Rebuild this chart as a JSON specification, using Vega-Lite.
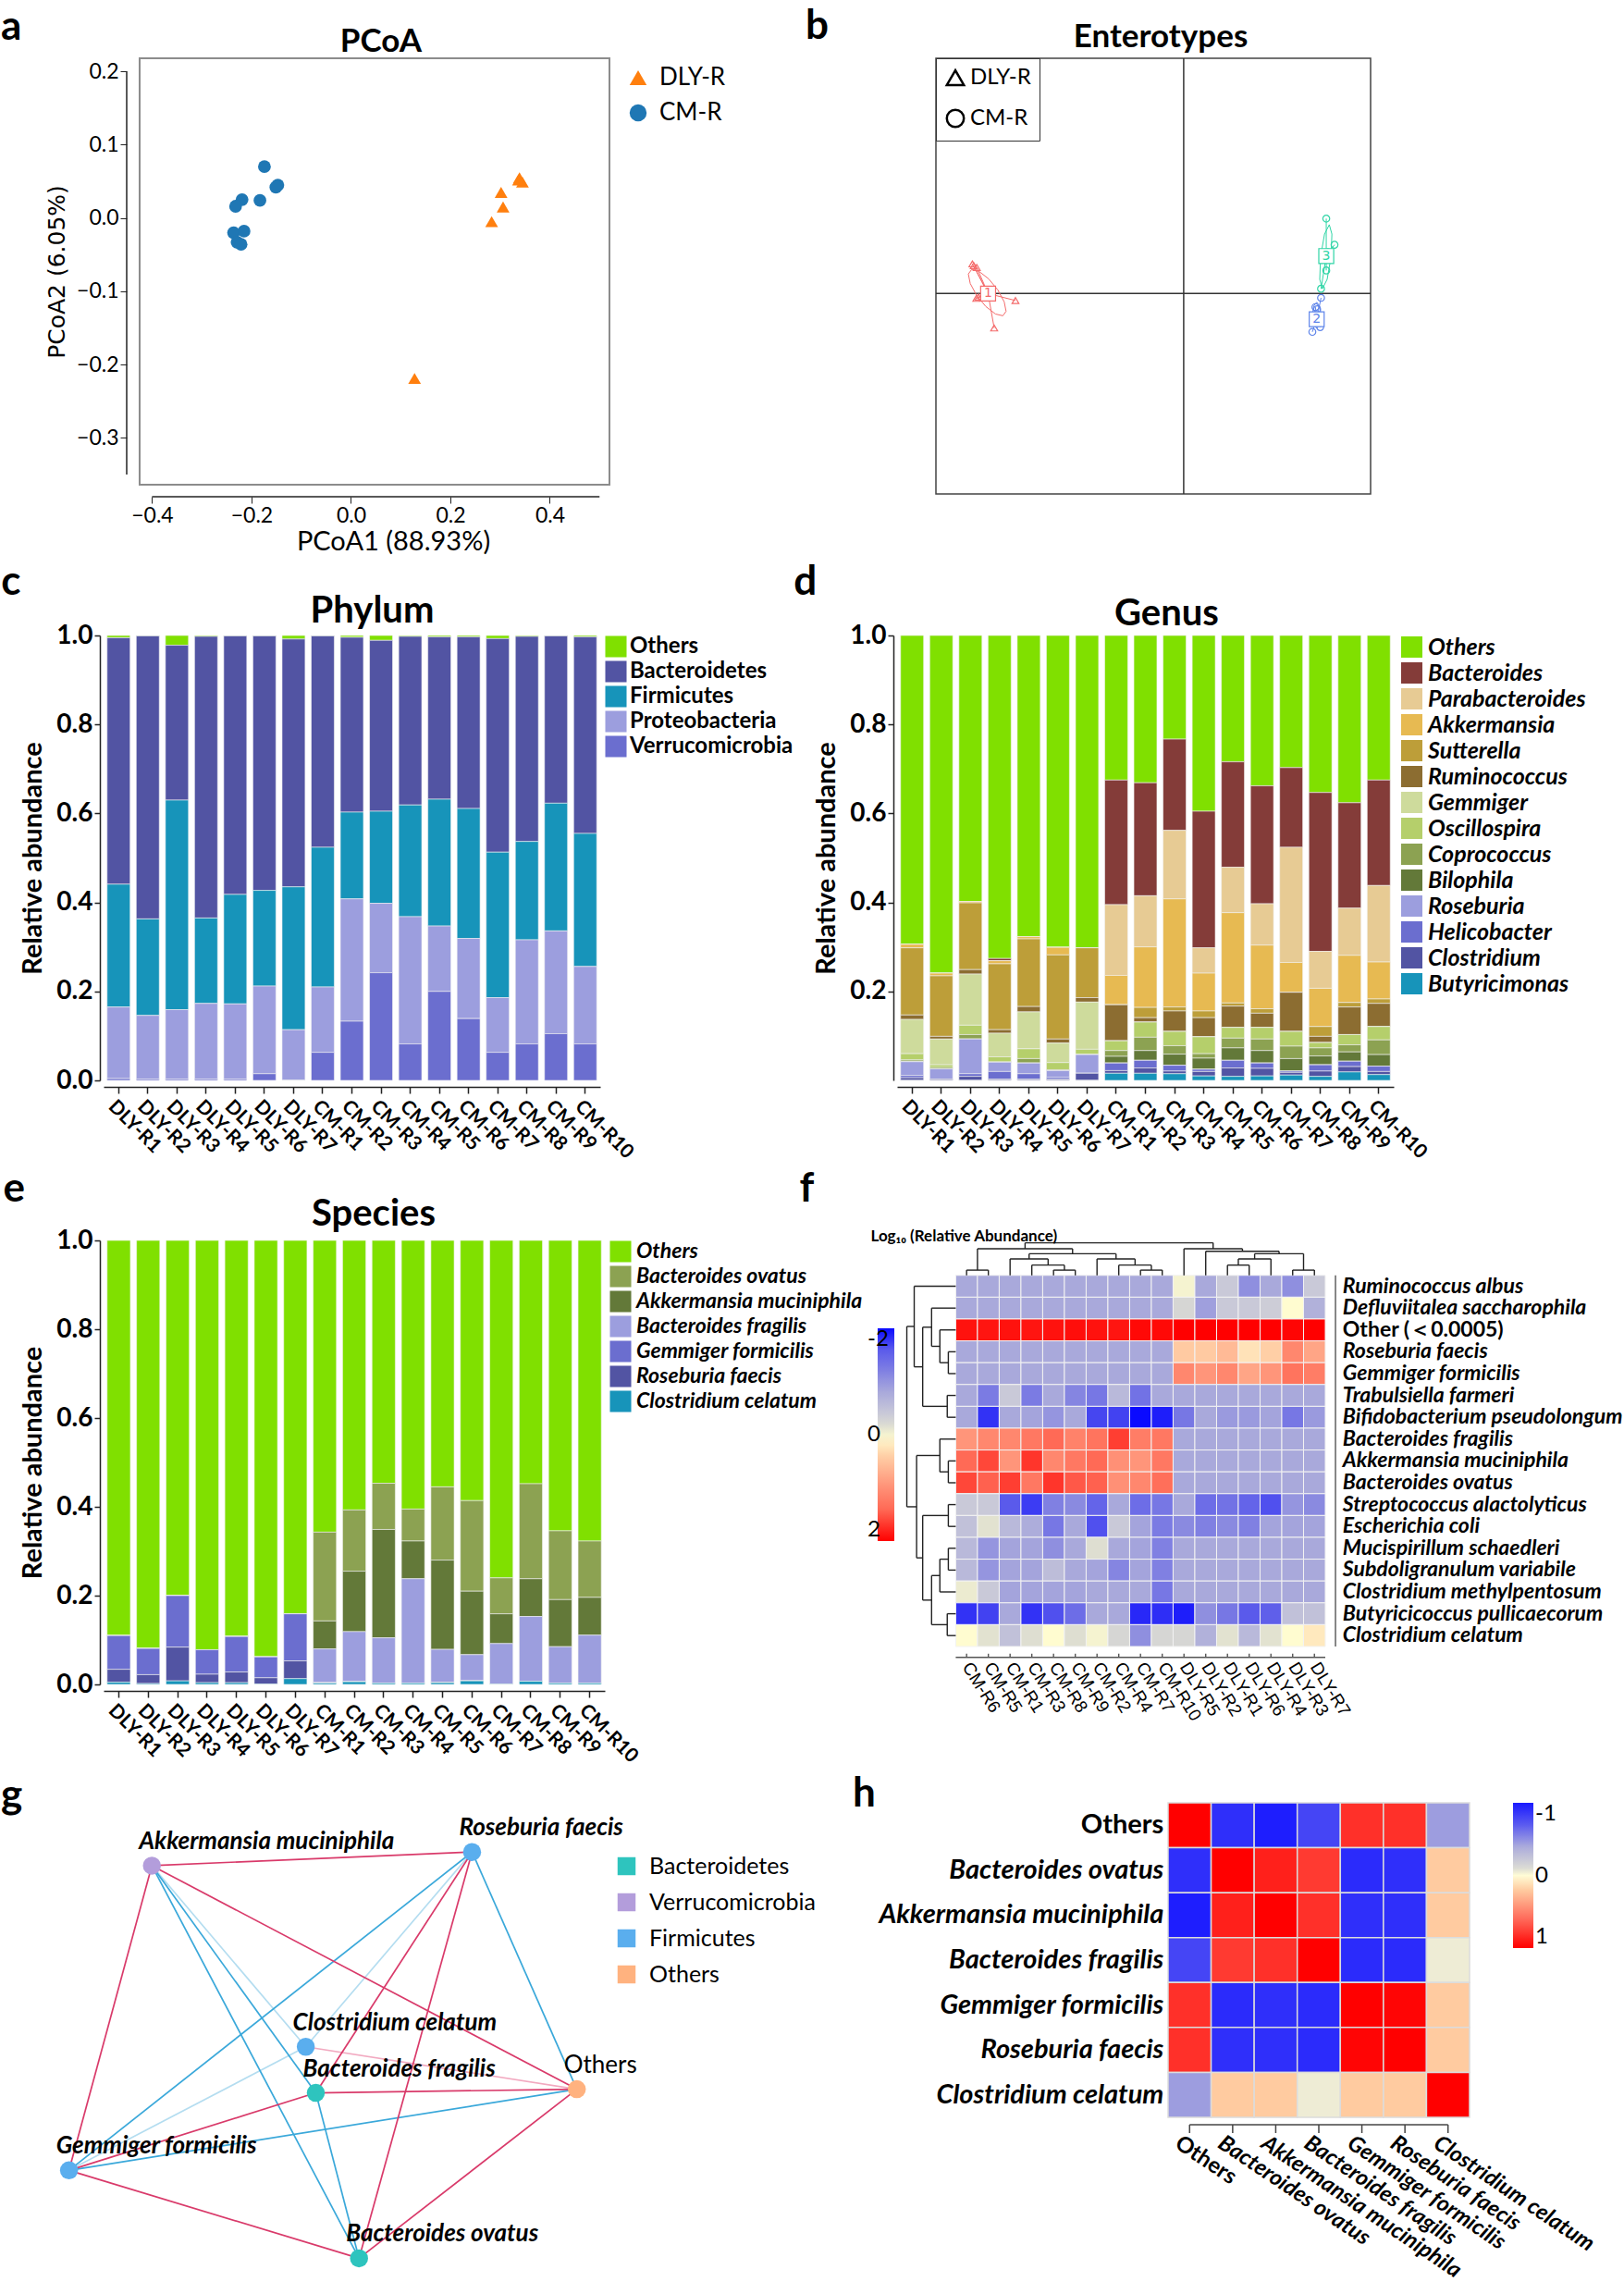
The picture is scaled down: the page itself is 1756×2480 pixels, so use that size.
{
"$schema": "https://vega.github.io/schema/vega-lite/v6.json",
"padding": {"left": 0, "top": 6, "right": 0, "bottom": 0},
"background": "white",
"spacing": 7,
"columns": 1,
"align": "none",
"resolve": {"scale": {"color": "independent", "shape": "independent", "size": "independent", "stroke": "independent", "fill": "independent"}},
"config": {
  "font": "Lato",
  "view": {"stroke": null},
  "axis": {"domainColor": "#222", "tickColor": "#222", "labelColor": "#000", "titleColor": "#000", "grid": false},
  "legend": {"labelColor": "#000", "titleColor": "#000"},
  "text": {"color": "#000"}
},
"datasets": {
  "pcoa": [
    {"g":"DLY-R","PC1":0.339,"PC2":0.055},{"g":"DLY-R","PC1":0.345,"PC2":0.049},{"g":"DLY-R","PC1":0.337,"PC2":0.052},{"g":"DLY-R","PC1":0.302,"PC2":0.035},{"g":"DLY-R","PC1":0.306,"PC2":0.015},{"g":"DLY-R","PC1":0.283,"PC2":-0.005},{"g":"DLY-R","PC1":0.128,"PC2":-0.219},
    {"g":"CM-R","PC1":-0.174,"PC2":0.070},{"g":"CM-R","PC1":-0.147,"PC2":0.045},{"g":"CM-R","PC1":-0.151,"PC2":0.042},{"g":"CM-R","PC1":-0.219,"PC2":0.025},{"g":"CM-R","PC1":-0.183,"PC2":0.024},{"g":"CM-R","PC1":-0.232,"PC2":0.016},{"g":"CM-R","PC1":-0.236,"PC2":-0.020},{"g":"CM-R","PC1":-0.215,"PC2":-0.018},{"g":"CM-R","PC1":-0.229,"PC2":-0.033},{"g":"CM-R","PC1":-0.221,"PC2":-0.036}
  ],
  "entPts": [
    {"g":"DLY-R","cl":"1","px":-4.86,"py":0.68},{"g":"DLY-R","cl":"1","px":-4.76,"py":0.60},{"g":"DLY-R","cl":"1","px":-4.83,"py":0.64},{"g":"DLY-R","cl":"1","px":-4.77,"py":-0.11},{"g":"DLY-R","cl":"1","px":-4.72,"py":-0.08},{"g":"DLY-R","cl":"1","px":-3.87,"py":-0.16},{"g":"DLY-R","cl":"1","px":-4.36,"py":-0.79},
    {"g":"CM-R","cl":"3","px":3.28,"py":1.72},{"g":"CM-R","cl":"3","px":3.47,"py":1.12},{"g":"CM-R","cl":"3","px":3.28,"py":0.53},{"g":"CM-R","cl":"3","px":3.16,"py":0.11},{"g":"CM-R","cl":"3","px":3.31,"py":0.95},
    {"g":"CM-R","cl":"2","px":3.16,"py":-0.10},{"g":"CM-R","cl":"2","px":3.03,"py":-0.31},{"g":"CM-R","cl":"2","px":3.07,"py":-0.36},{"g":"CM-R","cl":"2","px":3.14,"py":-0.77},{"g":"CM-R","cl":"2","px":2.96,"py":-0.88}
  ],
  "entCtr": [
    {"cl":"1","cx":-4.5,"cy":0.0},{"cl":"2","cx":3.06,"cy":-0.59},{"cl":"3","cx":3.28,"cy":0.86}
  ],
  "entEll": [
    {"cl":"1","k":0,"ex":-4.16,"ey":-0.51},{"cl":"1","k":1,"ex":-4.086,"ey":-0.408},{"cl":"1","k":2,"ex":-4.129,"ey":-0.191},{"cl":"1","k":3,"ex":-4.276,"ey":0.082},{"cl":"1","k":4,"ex":-4.489,"ey":0.339},{"cl":"1","k":5,"ex":-4.71,"ey":0.51},{"cl":"1","k":6,"ex":-4.88,"ey":0.55},{"cl":"1","k":7,"ex":-4.954,"ey":0.448},{"cl":"1","k":8,"ex":-4.911,"ey":0.231},{"cl":"1","k":9,"ex":-4.764,"ey":-0.042},{"cl":"1","k":10,"ex":-4.551,"ey":-0.299},{"cl":"1","k":11,"ex":-4.33,"ey":-0.47},{"cl":"1","k":12,"ex":-4.16,"ey":-0.51},
    {"cl":"3","k":0,"ex":3.35,"ey":1.58},{"cl":"3","k":1,"ex":3.41,"ey":1.365},{"cl":"3","k":2,"ex":3.39,"ey":0.845},{"cl":"3","k":3,"ex":3.30,"ey":0.325},{"cl":"3","k":4,"ex":3.19,"ey":0.11},{"cl":"3","k":5,"ex":3.13,"ey":0.325},{"cl":"3","k":6,"ex":3.15,"ey":0.845},{"cl":"3","k":7,"ex":3.24,"ey":1.365},{"cl":"3","k":8,"ex":3.35,"ey":1.58},
    {"cl":"2","k":0,"ex":3.06,"ey":-0.2},{"cl":"2","k":1,"ex":3.13,"ey":-0.29},{"cl":"2","k":2,"ex":3.16,"ey":-0.5},{"cl":"2","k":3,"ex":3.13,"ey":-0.71},{"cl":"2","k":4,"ex":3.06,"ey":-0.8},{"cl":"2","k":5,"ex":2.99,"ey":-0.71},{"cl":"2","k":6,"ex":2.96,"ey":-0.5},{"cl":"2","k":7,"ex":2.99,"ey":-0.29},{"cl":"2","k":8,"ex":3.06,"ey":-0.2}
  ],
  "phylum": [
    {"s":"DLY-R1","Others":0.005,"Bacteroidetes":0.554,"Firmicutes":0.276,"Proteobacteria":0.161,"Verrucomicrobia":0.004},
    {"s":"DLY-R2","Others":0.001,"Bacteroidetes":0.636,"Firmicutes":0.217,"Proteobacteria":0.143,"Verrucomicrobia":0.003},
    {"s":"DLY-R3","Others":0.022,"Bacteroidetes":0.348,"Firmicutes":0.471,"Proteobacteria":0.156,"Verrucomicrobia":0.003},
    {"s":"DLY-R4","Others":0.002,"Bacteroidetes":0.633,"Firmicutes":0.192,"Proteobacteria":0.170,"Verrucomicrobia":0.003},
    {"s":"DLY-R5","Others":0.001,"Bacteroidetes":0.581,"Firmicutes":0.246,"Proteobacteria":0.169,"Verrucomicrobia":0.003},
    {"s":"DLY-R6","Others":0.001,"Bacteroidetes":0.572,"Firmicutes":0.215,"Proteobacteria":0.197,"Verrucomicrobia":0.015},
    {"s":"DLY-R7","Others":0.008,"Bacteroidetes":0.557,"Firmicutes":0.321,"Proteobacteria":0.113,"Verrucomicrobia":0.001},
    {"s":"CM-R1","Others":0.001,"Bacteroidetes":0.475,"Firmicutes":0.314,"Proteobacteria":0.147,"Verrucomicrobia":0.063},
    {"s":"CM-R2","Others":0.004,"Bacteroidetes":0.393,"Firmicutes":0.195,"Proteobacteria":0.275,"Verrucomicrobia":0.133},
    {"s":"CM-R3","Others":0.011,"Bacteroidetes":0.384,"Firmicutes":0.207,"Proteobacteria":0.156,"Verrucomicrobia":0.242},
    {"s":"CM-R4","Others":0.002,"Bacteroidetes":0.379,"Firmicutes":0.251,"Proteobacteria":0.286,"Verrucomicrobia":0.082},
    {"s":"CM-R5","Others":0.003,"Bacteroidetes":0.365,"Firmicutes":0.285,"Proteobacteria":0.147,"Verrucomicrobia":0.200},
    {"s":"CM-R6","Others":0.003,"Bacteroidetes":0.386,"Firmicutes":0.292,"Proteobacteria":0.180,"Verrucomicrobia":0.139},
    {"s":"CM-R7","Others":0.007,"Bacteroidetes":0.480,"Firmicutes":0.327,"Proteobacteria":0.123,"Verrucomicrobia":0.063},
    {"s":"CM-R8","Others":0.002,"Bacteroidetes":0.461,"Firmicutes":0.221,"Proteobacteria":0.234,"Verrucomicrobia":0.082},
    {"s":"CM-R9","Others":0.001,"Bacteroidetes":0.376,"Firmicutes":0.287,"Proteobacteria":0.231,"Verrucomicrobia":0.105},
    {"s":"CM-R10","Others":0.003,"Bacteroidetes":0.442,"Firmicutes":0.299,"Proteobacteria":0.174,"Verrucomicrobia":0.082}
  ],
  "genus": [
    {"s":"DLY-R1","Others":0.694,"Bacteroides":0,"Parabacteroides":0,"Akkermansia":0.008,"Sutterella":0.151,"Ruminococcus":0.010,"Gemmiger":0.077,"Oscillospira":0.014,"Coprococcus":0.003,"Bilophila":0.001,"Roseburia":0.031,"Helicobacter":0.005,"Clostridium":0.006,"Butyricimonas":0},
    {"s":"DLY-R2","Others":0.759,"Bacteroides":0,"Parabacteroides":0,"Akkermansia":0.006,"Sutterella":0.136,"Ruminococcus":0.006,"Gemmiger":0.058,"Oscillospira":0.006,"Coprococcus":0.003,"Bilophila":0,"Roseburia":0.023,"Helicobacter":0,"Clostridium":0.003,"Butyricimonas":0},
    {"s":"DLY-R3","Others":0.598,"Bacteroides":0,"Parabacteroides":0,"Akkermansia":0.003,"Sutterella":0.150,"Ruminococcus":0.010,"Gemmiger":0.115,"Oscillospira":0.021,"Coprococcus":0.010,"Bilophila":0,"Roseburia":0.078,"Helicobacter":0.006,"Clostridium":0.009,"Butyricimonas":0},
    {"s":"DLY-R4","Others":0.726,"Bacteroides":0.005,"Parabacteroides":0,"Akkermansia":0.007,"Sutterella":0.148,"Ruminococcus":0.008,"Gemmiger":0.053,"Oscillospira":0.012,"Coprococcus":0,"Bilophila":0,"Roseburia":0.021,"Helicobacter":0.017,"Clostridium":0.003,"Butyricimonas":0},
    {"s":"DLY-R5","Others":0.677,"Bacteroides":0,"Parabacteroides":0,"Akkermansia":0.005,"Sutterella":0.152,"Ruminococcus":0.012,"Gemmiger":0.083,"Oscillospira":0.022,"Coprococcus":0.010,"Bilophila":0,"Roseburia":0.024,"Helicobacter":0.012,"Clostridium":0.003,"Butyricimonas":0},
    {"s":"DLY-R6","Others":0.701,"Bacteroides":0,"Parabacteroides":0,"Akkermansia":0.017,"Sutterella":0.189,"Ruminococcus":0.009,"Gemmiger":0.044,"Oscillospira":0.016,"Coprococcus":0.002,"Bilophila":0,"Roseburia":0.015,"Helicobacter":0.004,"Clostridium":0.003,"Butyricimonas":0},
    {"s":"DLY-R7","Others":0.702,"Bacteroides":0,"Parabacteroides":0,"Akkermansia":0,"Sutterella":0.112,"Ruminococcus":0.010,"Gemmiger":0.106,"Oscillospira":0.012,"Coprococcus":0,"Bilophila":0,"Roseburia":0.042,"Helicobacter":0,"Clostridium":0.016,"Butyricimonas":0},
    {"s":"CM-R1","Others":0.325,"Bacteroides":0.280,"Parabacteroides":0.159,"Akkermansia":0.066,"Sutterella":0,"Ruminococcus":0.081,"Gemmiger":0,"Oscillospira":0.022,"Coprococcus":0.013,"Bilophila":0.015,"Roseburia":0,"Helicobacter":0.017,"Clostridium":0.006,"Butyricimonas":0.016},
    {"s":"CM-R2","Others":0.331,"Bacteroides":0.254,"Parabacteroides":0.115,"Akkermansia":0.136,"Sutterella":0.023,"Ruminococcus":0.010,"Gemmiger":0,"Oscillospira":0.034,"Coprococcus":0.030,"Bilophila":0.022,"Roseburia":0,"Helicobacter":0.017,"Clostridium":0.012,"Butyricimonas":0.016},
    {"s":"CM-R3","Others":0.233,"Bacteroides":0.205,"Parabacteroides":0.154,"Akkermansia":0.243,"Sutterella":0.009,"Ruminococcus":0.046,"Gemmiger":0,"Oscillospira":0.032,"Coprococcus":0.019,"Bilophila":0.025,"Roseburia":0,"Helicobacter":0.013,"Clostridium":0.006,"Butyricimonas":0.015},
    {"s":"CM-R4","Others":0.395,"Bacteroides":0.307,"Parabacteroides":0.057,"Akkermansia":0.085,"Sutterella":0.015,"Ruminococcus":0.043,"Gemmiger":0,"Oscillospira":0.038,"Coprococcus":0.010,"Bilophila":0.025,"Roseburia":0,"Helicobacter":0.005,"Clostridium":0.010,"Butyricimonas":0.010},
    {"s":"CM-R5","Others":0.284,"Bacteroides":0.237,"Parabacteroides":0.102,"Akkermansia":0.203,"Sutterella":0.007,"Ruminococcus":0.048,"Gemmiger":0,"Oscillospira":0.024,"Coprococcus":0.022,"Bilophila":0.028,"Roseburia":0,"Helicobacter":0.017,"Clostridium":0.019,"Butyricimonas":0.009},
    {"s":"CM-R6","Others":0.338,"Bacteroides":0.265,"Parabacteroides":0.093,"Akkermansia":0.143,"Sutterella":0.010,"Ruminococcus":0.032,"Gemmiger":0,"Oscillospira":0.026,"Coprococcus":0.026,"Bilophila":0.028,"Roseburia":0,"Helicobacter":0.012,"Clostridium":0.017,"Butyricimonas":0.010},
    {"s":"CM-R7","Others":0.297,"Bacteroides":0.179,"Parabacteroides":0.259,"Akkermansia":0.067,"Sutterella":0,"Ruminococcus":0.088,"Gemmiger":0,"Oscillospira":0.033,"Coprococcus":0.028,"Bilophila":0.028,"Roseburia":0,"Helicobacter":0.003,"Clostridium":0.006,"Butyricimonas":0.012},
    {"s":"CM-R8","Others":0.353,"Bacteroides":0.357,"Parabacteroides":0.083,"Akkermansia":0.086,"Sutterella":0.022,"Ruminococcus":0.014,"Gemmiger":0,"Oscillospira":0.012,"Coprococcus":0.018,"Bilophila":0.020,"Roseburia":0,"Helicobacter":0.014,"Clostridium":0.012,"Butyricimonas":0.009},
    {"s":"CM-R9","Others":0.376,"Bacteroides":0.237,"Parabacteroides":0.106,"Akkermansia":0.106,"Sutterella":0.010,"Ruminococcus":0.062,"Gemmiger":0,"Oscillospira":0.023,"Coprococcus":0.016,"Bilophila":0.021,"Roseburia":0,"Helicobacter":0.012,"Clostridium":0.012,"Butyricimonas":0.019},
    {"s":"CM-R10","Others":0.325,"Bacteroides":0.237,"Parabacteroides":0.172,"Akkermansia":0.083,"Sutterella":0.010,"Ruminococcus":0.052,"Gemmiger":0,"Oscillospira":0.030,"Coprococcus":0.033,"Bilophila":0.026,"Roseburia":0,"Helicobacter":0.012,"Clostridium":0.007,"Butyricimonas":0.013}
  ],
  "species": [
    {"s":"DLY-R1","Others":0.890,"Bacteroides ovatus":0,"Akkermansia muciniphila":0,"Bacteroides fragilis":0,"Gemmiger formicilis":0.076,"Roseburia faecis":0.029,"Clostridium celatum":0.005},
    {"s":"DLY-R2","Others":0.919,"Bacteroides ovatus":0,"Akkermansia muciniphila":0,"Bacteroides fragilis":0,"Gemmiger formicilis":0.059,"Roseburia faecis":0.020,"Clostridium celatum":0.002},
    {"s":"DLY-R3","Others":0.800,"Bacteroides ovatus":0,"Akkermansia muciniphila":0,"Bacteroides fragilis":0,"Gemmiger formicilis":0.116,"Roseburia faecis":0.076,"Clostridium celatum":0.008},
    {"s":"DLY-R4","Others":0.922,"Bacteroides ovatus":0,"Akkermansia muciniphila":0,"Bacteroides fragilis":0,"Gemmiger formicilis":0.055,"Roseburia faecis":0.019,"Clostridium celatum":0.004},
    {"s":"DLY-R5","Others":0.892,"Bacteroides ovatus":0,"Akkermansia muciniphila":0,"Bacteroides fragilis":0,"Gemmiger formicilis":0.080,"Roseburia faecis":0.024,"Clostridium celatum":0.004},
    {"s":"DLY-R6","Others":0.938,"Bacteroides ovatus":0,"Akkermansia muciniphila":0,"Bacteroides fragilis":0,"Gemmiger formicilis":0.047,"Roseburia faecis":0.014,"Clostridium celatum":0.001},
    {"s":"DLY-R7","Others":0.841,"Bacteroides ovatus":0,"Akkermansia muciniphila":0,"Bacteroides fragilis":0,"Gemmiger formicilis":0.106,"Roseburia faecis":0.040,"Clostridium celatum":0.013},
    {"s":"CM-R1","Others":0.657,"Bacteroides ovatus":0.200,"Akkermansia muciniphila":0.063,"Bacteroides fragilis":0.076,"Gemmiger formicilis":0,"Roseburia faecis":0.001,"Clostridium celatum":0.003},
    {"s":"CM-R2","Others":0.607,"Bacteroides ovatus":0.138,"Akkermansia muciniphila":0.136,"Bacteroides fragilis":0.113,"Gemmiger formicilis":0,"Roseburia faecis":0,"Clostridium celatum":0.006},
    {"s":"CM-R3","Others":0.547,"Bacteroides ovatus":0.104,"Akkermansia muciniphila":0.244,"Bacteroides fragilis":0.102,"Gemmiger formicilis":0,"Roseburia faecis":0,"Clostridium celatum":0.003},
    {"s":"CM-R4","Others":0.605,"Bacteroides ovatus":0.072,"Akkermansia muciniphila":0.085,"Bacteroides fragilis":0.235,"Gemmiger formicilis":0,"Roseburia faecis":0,"Clostridium celatum":0.003},
    {"s":"CM-R5","Others":0.555,"Bacteroides ovatus":0.165,"Akkermansia muciniphila":0.201,"Bacteroides fragilis":0.074,"Gemmiger formicilis":0,"Roseburia faecis":0.001,"Clostridium celatum":0.004},
    {"s":"CM-R6","Others":0.586,"Bacteroides ovatus":0.204,"Akkermansia muciniphila":0.143,"Bacteroides fragilis":0.059,"Gemmiger formicilis":0,"Roseburia faecis":0,"Clostridium celatum":0.008},
    {"s":"CM-R7","Others":0.760,"Bacteroides ovatus":0.081,"Akkermansia muciniphila":0.067,"Bacteroides fragilis":0.091,"Gemmiger formicilis":0,"Roseburia faecis":0,"Clostridium celatum":0.001},
    {"s":"CM-R8","Others":0.548,"Bacteroides ovatus":0.214,"Akkermansia muciniphila":0.085,"Bacteroides fragilis":0.146,"Gemmiger formicilis":0,"Roseburia faecis":0,"Clostridium celatum":0.007},
    {"s":"CM-R9","Others":0.654,"Bacteroides ovatus":0.155,"Akkermansia muciniphila":0.106,"Bacteroides fragilis":0.082,"Gemmiger formicilis":0,"Roseburia faecis":0,"Clostridium celatum":0.003},
    {"s":"CM-R10","Others":0.677,"Bacteroides ovatus":0.127,"Akkermansia muciniphila":0.085,"Bacteroides fragilis":0.108,"Gemmiger formicilis":0,"Roseburia faecis":0,"Clostridium celatum":0.003}
  ],
  "fcols": [
    {"sample":"CM-R6","x0":0,"x1":1,"xc":0.5},{"sample":"CM-R5","x0":1,"x1":2,"xc":1.5},{"sample":"CM-R1","x0":2,"x1":3,"xc":2.5},{"sample":"CM-R3","x0":3,"x1":4,"xc":3.5},{"sample":"CM-R8","x0":4,"x1":5,"xc":4.5},{"sample":"CM-R9","x0":5,"x1":6,"xc":5.5},{"sample":"CM-R2","x0":6,"x1":7,"xc":6.5},{"sample":"CM-R4","x0":7,"x1":8,"xc":7.5},{"sample":"CM-R7","x0":8,"x1":9,"xc":8.5},{"sample":"CM-R10","x0":9,"x1":10,"xc":9.5},
    {"sample":"DLY-R5","x0":10,"x1":11,"xc":10.5},{"sample":"DLY-R2","x0":11,"x1":12,"xc":11.5},{"sample":"DLY-R1","x0":12,"x1":13,"xc":12.5},{"sample":"DLY-R6","x0":13,"x1":14,"xc":13.5},{"sample":"DLY-R4","x0":14,"x1":15,"xc":14.5},{"sample":"DLY-R3","x0":15,"x1":16,"xc":15.5},{"sample":"DLY-R7","x0":16,"x1":17,"xc":16.5}
  ],
  "frows": [
    {"taxon":"Ruminococcus albus","y0":0,"y1":1,"yc":0.5,"it":true},
    {"taxon":"Defluviitalea saccharophila","y0":1,"y1":2,"yc":1.5,"it":true},
    {"taxon":"Other (＜0.0005)","y0":2,"y1":3,"yc":2.5,"it":false},
    {"taxon":"Roseburia faecis","y0":3,"y1":4,"yc":3.5,"it":true},
    {"taxon":"Gemmiger formicilis","y0":4,"y1":5,"yc":4.5,"it":true},
    {"taxon":"Trabulsiella farmeri","y0":5,"y1":6,"yc":5.5,"it":true},
    {"taxon":"Bifidobacterium pseudolongum","y0":6,"y1":7,"yc":6.5,"it":true},
    {"taxon":"Bacteroides fragilis","y0":7,"y1":8,"yc":7.5,"it":true},
    {"taxon":"Akkermansia muciniphila","y0":8,"y1":9,"yc":8.5,"it":true},
    {"taxon":"Bacteroides ovatus","y0":9,"y1":10,"yc":9.5,"it":true},
    {"taxon":"Streptococcus alactolyticus","y0":10,"y1":11,"yc":10.5,"it":true},
    {"taxon":"Escherichia coli","y0":11,"y1":12,"yc":11.5,"it":true},
    {"taxon":"Mucispirillum schaedleri","y0":12,"y1":13,"yc":12.5,"it":true},
    {"taxon":"Subdoligranulum variabile","y0":13,"y1":14,"yc":13.5,"it":true},
    {"taxon":"Clostridium methylpentosum","y0":14,"y1":15,"yc":14.5,"it":true},
    {"taxon":"Butyricicoccus pullicaecorum","y0":15,"y1":16,"yc":15.5,"it":true},
    {"taxon":"Clostridium celatum","y0":16,"y1":17,"yc":16.5,"it":true}
  ],
  "fheat": [
    {"taxon":"Ruminococcus albus","CM-R6":-0.8,"CM-R5":-0.8,"CM-R1":-0.8,"CM-R3":-0.8,"CM-R8":-0.8,"CM-R9":-0.8,"CM-R2":-0.8,"CM-R4":-0.8,"CM-R7":-0.8,"CM-R10":-0.8,"DLY-R5":0.0,"DLY-R2":-0.8,"DLY-R1":-0.4,"DLY-R6":-1.05,"DLY-R4":-0.8,"DLY-R3":-1.05,"DLY-R7":-0.4},
    {"taxon":"Defluviitalea saccharophila","CM-R6":-0.8,"CM-R5":-0.8,"CM-R1":-0.8,"CM-R3":-0.8,"CM-R8":-0.8,"CM-R9":-0.8,"CM-R2":-0.8,"CM-R4":-0.8,"CM-R7":-0.8,"CM-R10":-0.8,"DLY-R5":-0.25,"DLY-R2":-0.9,"DLY-R1":-0.4,"DLY-R6":-0.4,"DLY-R4":-0.35,"DLY-R3":0.05,"DLY-R7":-0.7},
    {"taxon":"Other (＜0.0005)","CM-R6":1.9,"CM-R5":1.88,"CM-R1":1.9,"CM-R3":1.88,"CM-R8":1.9,"CM-R9":1.92,"CM-R2":1.9,"CM-R4":1.88,"CM-R7":1.95,"CM-R10":1.95,"DLY-R5":2,"DLY-R2":2,"DLY-R1":2,"DLY-R6":2,"DLY-R4":2,"DLY-R3":1.97,"DLY-R7":2},
    {"taxon":"Roseburia faecis","CM-R6":-0.8,"CM-R5":-0.8,"CM-R1":-0.8,"CM-R3":-0.8,"CM-R8":-0.8,"CM-R9":-0.8,"CM-R2":-0.8,"CM-R4":-0.8,"CM-R7":-0.8,"CM-R10":-0.8,"DLY-R5":0.45,"DLY-R2":0.45,"DLY-R1":0.6,"DLY-R6":0.25,"DLY-R4":0.4,"DLY-R3":1.1,"DLY-R7":0.8},
    {"taxon":"Gemmiger formicilis","CM-R6":-0.8,"CM-R5":-0.8,"CM-R1":-0.8,"CM-R3":-0.8,"CM-R8":-0.8,"CM-R9":-0.8,"CM-R2":-0.8,"CM-R4":-0.8,"CM-R7":-0.8,"CM-R10":-0.8,"DLY-R5":1.1,"DLY-R2":0.95,"DLY-R1":1.1,"DLY-R6":0.8,"DLY-R4":0.95,"DLY-R3":1.3,"DLY-R7":1.2},
    {"taxon":"Trabulsiella farmeri","CM-R6":-0.8,"CM-R5":-1.25,"CM-R1":-0.4,"CM-R3":-1.25,"CM-R8":-0.8,"CM-R9":-1.15,"CM-R2":-1.3,"CM-R4":-0.6,"CM-R7":-1.35,"CM-R10":-0.8,"DLY-R5":-0.8,"DLY-R2":-0.8,"DLY-R1":-0.8,"DLY-R6":-0.8,"DLY-R4":-0.8,"DLY-R3":-0.8,"DLY-R7":-0.8},
    {"taxon":"Bifidobacterium pseudolongum","CM-R6":-0.8,"CM-R5":-1.8,"CM-R1":-0.8,"CM-R3":-0.85,"CM-R8":-1.0,"CM-R9":-0.8,"CM-R2":-1.7,"CM-R4":-1.72,"CM-R7":-2.0,"CM-R10":-1.9,"DLY-R5":-1.3,"DLY-R2":-0.8,"DLY-R1":-0.95,"DLY-R6":-0.95,"DLY-R4":-0.85,"DLY-R3":-1.3,"DLY-R7":-0.95},
    {"taxon":"Bacteroides fragilis","CM-R6":0.95,"CM-R5":1.1,"CM-R1":1.1,"CM-R3":1.25,"CM-R8":1.4,"CM-R9":1.15,"CM-R2":1.3,"CM-R4":1.65,"CM-R7":1.2,"CM-R10":1.25,"DLY-R5":-0.8,"DLY-R2":-0.8,"DLY-R1":-0.8,"DLY-R6":-0.8,"DLY-R4":-0.8,"DLY-R3":-0.8,"DLY-R7":-0.8},
    {"taxon":"Akkermansia muciniphila","CM-R6":1.4,"CM-R5":1.6,"CM-R1":0.95,"CM-R3":1.7,"CM-R8":1.1,"CM-R9":1.25,"CM-R2":1.4,"CM-R4":1.0,"CM-R7":0.95,"CM-R10":1.25,"DLY-R5":-0.8,"DLY-R2":-0.8,"DLY-R1":-0.8,"DLY-R6":-0.8,"DLY-R4":-0.8,"DLY-R3":-0.8,"DLY-R7":-0.8},
    {"taxon":"Bacteroides ovatus","CM-R6":1.6,"CM-R5":1.45,"CM-R1":1.65,"CM-R3":1.25,"CM-R8":1.7,"CM-R9":1.5,"CM-R2":1.45,"CM-R4":1.0,"CM-R7":1.1,"CM-R10":1.35,"DLY-R5":-0.8,"DLY-R2":-0.8,"DLY-R1":-0.8,"DLY-R6":-0.8,"DLY-R4":-0.8,"DLY-R3":-0.8,"DLY-R7":-0.8},
    {"taxon":"Streptococcus alactolyticus","CM-R6":-0.4,"CM-R5":-0.4,"CM-R1":-1.6,"CM-R3":-1.75,"CM-R8":-1.2,"CM-R9":-1.1,"CM-R2":-1.5,"CM-R4":-0.8,"CM-R7":-1.4,"CM-R10":-1.3,"DLY-R5":-0.8,"DLY-R2":-1.4,"DLY-R1":-1.35,"DLY-R6":-1.5,"DLY-R4":-1.65,"DLY-R3":-1.0,"DLY-R7":-1.1},
    {"taxon":"Escherichia coli","CM-R6":-0.5,"CM-R5":-0.1,"CM-R1":-0.6,"CM-R3":-0.75,"CM-R8":-1.3,"CM-R9":-0.8,"CM-R2":-1.65,"CM-R4":-0.4,"CM-R7":-0.85,"CM-R10":-1.25,"DLY-R5":-1.1,"DLY-R2":-1.2,"DLY-R1":-1.1,"DLY-R6":-1.2,"DLY-R4":-0.85,"DLY-R3":-0.85,"DLY-R7":-0.85},
    {"taxon":"Mucispirillum schaedleri","CM-R6":-0.6,"CM-R5":-1.0,"CM-R1":-0.85,"CM-R3":-0.85,"CM-R8":-1.05,"CM-R9":-0.8,"CM-R2":-0.15,"CM-R4":-0.8,"CM-R7":-0.85,"CM-R10":-1.2,"DLY-R5":-0.8,"DLY-R2":-0.8,"DLY-R1":-0.8,"DLY-R6":-0.8,"DLY-R4":-0.8,"DLY-R3":-0.8,"DLY-R7":-0.8},
    {"taxon":"Subdoligranulum variabile","CM-R6":-0.6,"CM-R5":-1.0,"CM-R1":-0.85,"CM-R3":-0.85,"CM-R8":-0.55,"CM-R9":-0.8,"CM-R2":-0.85,"CM-R4":-1.15,"CM-R7":-0.85,"CM-R10":-1.2,"DLY-R5":-0.8,"DLY-R2":-0.8,"DLY-R1":-0.8,"DLY-R6":-0.8,"DLY-R4":-0.8,"DLY-R3":-0.8,"DLY-R7":-0.8},
    {"taxon":"Clostridium methylpentosum","CM-R6":-0.05,"CM-R5":-0.4,"CM-R1":-0.85,"CM-R3":-0.85,"CM-R8":-0.85,"CM-R9":-0.85,"CM-R2":-0.8,"CM-R4":-0.8,"CM-R7":-0.8,"CM-R10":-1.3,"DLY-R5":-0.8,"DLY-R2":-0.8,"DLY-R1":-0.8,"DLY-R6":-0.8,"DLY-R4":-0.8,"DLY-R3":-0.8,"DLY-R7":-0.8},
    {"taxon":"Butyricicoccus pullicaecorum","CM-R6":-1.8,"CM-R5":-1.72,"CM-R1":-0.8,"CM-R3":-1.8,"CM-R8":-1.65,"CM-R9":-1.4,"CM-R2":-0.8,"CM-R4":-0.8,"CM-R7":-1.85,"CM-R10":-1.82,"DLY-R5":-1.9,"DLY-R2":-1.05,"DLY-R1":-1.3,"DLY-R6":-1.6,"DLY-R4":-1.55,"DLY-R3":-0.5,"DLY-R7":-0.5},
    {"taxon":"Clostridium celatum","CM-R6":0.05,"CM-R5":-0.1,"CM-R1":-0.5,"CM-R3":-0.15,"CM-R8":0.05,"CM-R9":-0.15,"CM-R2":0.0,"CM-R4":-0.25,"CM-R7":-1.05,"CM-R10":-0.25,"DLY-R5":-0.25,"DLY-R2":-0.7,"DLY-R1":-0.1,"DLY-R6":-0.6,"DLY-R4":-0.1,"DLY-R3":0.05,"DLY-R7":0.2}
  ],
  "fcolden": [
    {"xl":0.5,"xr":1.5,"hl":0,"hr":0,"h":-0.24},
    {"xl":4.5,"xr":5.5,"hl":0,"hr":0,"h":-0.24},
    {"xl":3.5,"xr":5.0,"hl":0,"hr":-0.24,"h":-0.47},
    {"xl":2.5,"xr":4.25,"hl":0,"hr":-0.47,"h":-0.75},
    {"xl":8.5,"xr":9.5,"hl":0,"hr":0,"h":-0.24},
    {"xl":7.5,"xr":9.0,"hl":0,"hr":-0.24,"h":-0.47},
    {"xl":6.5,"xr":8.25,"hl":0,"hr":-0.47,"h":-0.75},
    {"xl":3.375,"xr":7.375,"hl":-0.75,"hr":-0.75,"h":-0.99},
    {"xl":1.0,"xr":5.375,"hl":-0.24,"hr":-0.99,"h":-1.22},
    {"xl":15.5,"xr":16.5,"hl":0,"hr":0,"h":-0.24},
    {"xl":12.5,"xr":13.5,"hl":0,"hr":0,"h":-0.47},
    {"xl":13.0,"xr":14.5,"hl":-0.47,"hr":0,"h":-0.75},
    {"xl":13.75,"xr":16.0,"hl":-0.75,"hr":-0.24,"h":-0.99},
    {"xl":11.5,"xr":14.875,"hl":0,"hr":-0.99,"h":-1.1},
    {"xl":10.5,"xr":13.19,"hl":0,"hr":-1.1,"h":-1.22},
    {"xl":3.19,"xr":11.84,"hl":-1.22,"hr":-1.22,"h":-1.49}
  ],
  "frowden": [
    {"yl":3.5,"yr":4.5,"hl":0,"hr":0,"h":-0.34},
    {"yl":2.5,"yr":4.0,"hl":0,"hr":-0.34,"h":-0.73},
    {"yl":1.5,"yr":3.25,"hl":0,"hr":-0.73,"h":-1.11},
    {"yl":5.5,"yr":6.5,"hl":0,"hr":0,"h":-0.39},
    {"yl":2.375,"yr":6.0,"hl":-1.11,"hr":-0.39,"h":-1.52},
    {"yl":0.5,"yr":4.19,"hl":0,"hr":-1.52,"h":-1.91},
    {"yl":8.5,"yr":9.5,"hl":0,"hr":0,"h":-0.34},
    {"yl":7.5,"yr":9.0,"hl":0,"hr":-0.34,"h":-0.73},
    {"yl":10.5,"yr":11.5,"hl":0,"hr":0,"h":-0.34},
    {"yl":12.5,"yr":13.5,"hl":0,"hr":0,"h":-0.34},
    {"yl":13.0,"yr":14.5,"hl":-0.34,"hr":0,"h":-0.73},
    {"yl":15.5,"yr":16.5,"hl":0,"hr":0,"h":-0.39},
    {"yl":13.75,"yr":16.0,"hl":-0.73,"hr":-0.39,"h":-1.11},
    {"yl":11.0,"yr":14.875,"hl":-0.34,"hr":-1.11,"h":-1.52},
    {"yl":8.25,"yr":12.94,"hl":-0.73,"hr":-1.52,"h":-1.8},
    {"yl":2.34,"yr":10.6,"hl":-1.91,"hr":-1.8,"h":-2.25}
  ],
  "gnodes": [
    {"name":"Akkermansia muciniphila","phylum":"Verrucomicrobia","x":25.5,"y":17.3},
    {"name":"Roseburia faecis","phylum":"Firmicutes","x":79.6,"y":14.7},
    {"name":"Clostridium celatum","phylum":"Firmicutes","x":51.5,"y":51.9},
    {"name":"Bacteroides fragilis","phylum":"Bacteroidetes","x":53.2,"y":60.7},
    {"name":"Others","phylum":"Others","x":97.3,"y":60.0},
    {"name":"Gemmiger formicilis","phylum":"Firmicutes","x":11.5,"y":75.5},
    {"name":"Bacteroides ovatus","phylum":"Bacteroidetes","x":60.5,"y":92.3}
  ],
  "gedges": [
    {"a":"Akkermansia muciniphila","b":"Clostridium celatum","t":"weakpos"},
    {"a":"Roseburia faecis","b":"Clostridium celatum","t":"weakpos"},
    {"a":"Gemmiger formicilis","b":"Clostridium celatum","t":"weakpos"},
    {"a":"Clostridium celatum","b":"Others","t":"weakneg"},
    {"a":"Akkermansia muciniphila","b":"Bacteroides fragilis","t":"pos"},
    {"a":"Akkermansia muciniphila","b":"Bacteroides ovatus","t":"pos"},
    {"a":"Roseburia faecis","b":"Gemmiger formicilis","t":"pos"},
    {"a":"Roseburia faecis","b":"Others","t":"pos"},
    {"a":"Gemmiger formicilis","b":"Others","t":"pos"},
    {"a":"Bacteroides fragilis","b":"Bacteroides ovatus","t":"pos"},
    {"a":"Akkermansia muciniphila","b":"Roseburia faecis","t":"neg"},
    {"a":"Akkermansia muciniphila","b":"Others","t":"neg"},
    {"a":"Akkermansia muciniphila","b":"Gemmiger formicilis","t":"neg"},
    {"a":"Roseburia faecis","b":"Bacteroides fragilis","t":"neg"},
    {"a":"Roseburia faecis","b":"Bacteroides ovatus","t":"neg"},
    {"a":"Gemmiger formicilis","b":"Bacteroides fragilis","t":"neg"},
    {"a":"Gemmiger formicilis","b":"Bacteroides ovatus","t":"neg"},
    {"a":"Bacteroides fragilis","b":"Others","t":"neg"},
    {"a":"Others","b":"Bacteroides ovatus","t":"neg"}
  ],
  "hidx": [
    {"name":"Others","i0":0,"i1":1,"ic":0.5,"it":false},
    {"name":"Bacteroides ovatus","i0":1,"i1":2,"ic":1.5,"it":true},
    {"name":"Akkermansia muciniphila","i0":2,"i1":3,"ic":2.5,"it":true},
    {"name":"Bacteroides fragilis","i0":3,"i1":4,"ic":3.5,"it":true},
    {"name":"Gemmiger formicilis","i0":4,"i1":5,"ic":4.5,"it":true},
    {"name":"Roseburia faecis","i0":5,"i1":6,"ic":5.5,"it":true},
    {"name":"Clostridium celatum","i0":6,"i1":7,"ic":6.5,"it":true}
  ],
  "hcorr": [
    {"row":"Others","Others":1.0,"Bacteroides ovatus":-0.9,"Akkermansia muciniphila":-0.98,"Bacteroides fragilis":-0.8,"Gemmiger formicilis":0.82,"Roseburia faecis":0.82,"Clostridium celatum":-0.45},
    {"row":"Bacteroides ovatus","Others":-0.9,"Bacteroides ovatus":1.0,"Akkermansia muciniphila":0.88,"Bacteroides fragilis":0.78,"Gemmiger formicilis":-0.92,"Roseburia faecis":-0.9,"Clostridium celatum":0.2},
    {"row":"Akkermansia muciniphila","Others":-0.98,"Bacteroides ovatus":0.88,"Akkermansia muciniphila":1.0,"Bacteroides fragilis":0.82,"Gemmiger formicilis":-0.9,"Roseburia faecis":-0.9,"Clostridium celatum":0.2},
    {"row":"Bacteroides fragilis","Others":-0.8,"Bacteroides ovatus":0.78,"Akkermansia muciniphila":0.82,"Bacteroides fragilis":1.0,"Gemmiger formicilis":-0.92,"Roseburia faecis":-0.92,"Clostridium celatum":-0.05},
    {"row":"Gemmiger formicilis","Others":0.82,"Bacteroides ovatus":-0.92,"Akkermansia muciniphila":-0.9,"Bacteroides fragilis":-0.92,"Gemmiger formicilis":1.0,"Roseburia faecis":0.98,"Clostridium celatum":0.2},
    {"row":"Roseburia faecis","Others":0.82,"Bacteroides ovatus":-0.9,"Akkermansia muciniphila":-0.9,"Bacteroides fragilis":-0.92,"Gemmiger formicilis":0.98,"Roseburia faecis":1.0,"Clostridium celatum":0.2},
    {"row":"Clostridium celatum","Others":-0.45,"Bacteroides ovatus":0.2,"Akkermansia muciniphila":0.2,"Bacteroides fragilis":-0.05,"Gemmiger formicilis":0.2,"Roseburia faecis":0.2,"Clostridium celatum":1.0}
  ]
},
"concat": [
 {"hconcat": [
  {
   "width": 547, "height": 461,
   "layer": [
    {"data": {"values": [{}]}, "mark": {"type": "rect", "fill": "transparent", "stroke": "#8c8c8c", "strokeWidth": 2},
     "encoding": {"x": {"datum": -0.425, "type": "quantitative", "scale": {"domain": [-0.4975, 0.52], "nice": false, "zero": false}}, "x2": {"datum": 0.52}, "y": {"datum": -0.364, "type": "quantitative", "scale": {"domain": [-0.364, 0.218], "nice": false, "zero": false}}, "y2": {"datum": 0.218}}},
    {"data": {"values": [{}]}, "mark": {"type": "rule", "color": "#222", "strokeWidth": 1.5},
     "encoding": {"x": {"datum": -0.4, "type": "quantitative"}, "x2": {"datum": 0.5}, "y": {"datum": -0.3805, "type": "quantitative"}}},
    {"data": {"values": [{}]}, "mark": {"type": "rule", "color": "#222", "strokeWidth": 1.5},
     "encoding": {"x": {"datum": -0.451, "type": "quantitative"}, "y": {"datum": -0.35, "type": "quantitative"}, "y2": {"datum": 0.2}}},
    {"data": {"name": "pcoa"},
     "mark": {"type": "point", "filled": true, "opacity": 1, "size": 190},
     "encoding": {
      "x": {"field": "PC1", "type": "quantitative", "scale": {"domain": [-0.4975, 0.52], "nice": false, "zero": false}, "axis": {"values": [-0.4, -0.2, 0, 0.2, 0.4], "format": ".1f", "offset": 13, "domain": false, "title": "PCoA1 (88.93%)", "labelFontSize": 23, "titleFontSize": 29, "titleFontWeight": "normal", "tickSize": 7, "titlePadding": 2, "titleX": 313}},
      "y": {"field": "PC2", "type": "quantitative", "scale": {"domain": [-0.364, 0.218], "nice": false, "zero": false}, "axis": {"values": [-0.3, -0.2, -0.1, 0, 0.1, 0.2], "format": ".1f", "offset": -25, "domain": false, "title": "PCoA2 (6.05%)", "labelFontSize": 23, "titleFont": "DejaVu Sans", "titleFontSize": 25, "titleFontWeight": "normal", "tickSize": 7, "titlePadding": 8}},
      "color": {"field": "g", "type": "nominal", "scale": {"domain": ["DLY-R", "CM-R"], "range": ["#FF7F0E", "#1F77B4"]}, "legend": {"title": null, "orient": "right", "offset": 10, "padding": 8, "labelFontSize": 26, "symbolSize": 340, "rowPadding": 12, "labelOffset": 10}},
      "shape": {"field": "g", "type": "nominal", "scale": {"domain": ["DLY-R", "CM-R"], "range": ["triangle-up", "circle"]}, "legend": {"title": null, "orient": "right", "offset": 10, "padding": 8, "labelFontSize": 26, "symbolSize": 340, "rowPadding": 12, "labelOffset": 10}}
     }},
    {"data": {"values": [{}]}, "mark": {"type": "text", "fontSize": 44, "fontWeight": "bold", "align": "left", "baseline": "alphabetic"},
     "encoding": {"x": {"datum": -0.704, "type": "quantitative"}, "y": {"datum": 0.243, "type": "quantitative"}, "text": {"value": "a"}}},
    {"data": {"values": [{}]}, "mark": {"type": "text", "fontSize": 35, "fontWeight": "bold", "align": "center", "baseline": "alphabetic"},
     "encoding": {"x": {"datum": 0.0605, "type": "quantitative"}, "y": {"datum": 0.227, "type": "quantitative"}, "text": {"value": "PCoA"}}}
   ]
  },
  {
   "width": 470, "height": 471,
   "view": {"stroke": "#444", "strokeWidth": 1.5},
   "layer": [
    {"data": {"values": [{}]}, "mark": {"type": "rule", "color": "#333", "strokeWidth": 1.5},
     "encoding": {"x": {"datum": 0, "type": "quantitative", "scale": {"domain": [-5.7, 4.3], "nice": false, "zero": false}, "axis": null}}},
    {"data": {"values": [{}]}, "mark": {"type": "rule", "color": "#333", "strokeWidth": 1.5},
     "encoding": {"y": {"datum": 0, "type": "quantitative", "scale": {"domain": [-4.6, 5.4], "nice": false, "zero": false}, "axis": null}}},
    {"data": {"name": "entEll"}, "mark": {"type": "line", "strokeWidth": 1},
     "encoding": {
      "x": {"field": "ex", "type": "quantitative", "scale": {"domain": [-5.7, 4.3], "nice": false, "zero": false}, "axis": null},
      "y": {"field": "ey", "type": "quantitative", "scale": {"domain": [-4.6, 5.4], "nice": false, "zero": false}, "axis": null},
      "detail": {"field": "cl"}, "order": {"field": "k", "type": "quantitative"},
      "color": {"field": "cl", "type": "nominal", "scale": {"domain": ["1", "2", "3"], "range": ["#F46B6B", "#5F85EA", "#30D5A6"]}, "legend": null}
     }},
    {"data": {"name": "entPts"},
     "transform": [{"lookup": "cl", "from": {"data": {"name": "entCtr"}, "key": "cl", "fields": ["cx", "cy"]}}],
     "mark": {"type": "rule", "strokeWidth": 1},
     "encoding": {
      "x": {"field": "cx", "type": "quantitative", "scale": {"domain": [-5.7, 4.3], "nice": false, "zero": false}, "axis": null},
      "y": {"field": "cy", "type": "quantitative", "scale": {"domain": [-4.6, 5.4], "nice": false, "zero": false}, "axis": null},
      "x2": {"field": "px"}, "y2": {"field": "py"},
      "color": {"field": "cl", "type": "nominal", "scale": {"domain": ["1", "2", "3"], "range": ["#F46B6B", "#5F85EA", "#30D5A6"]}, "legend": null}
     }},
    {"data": {"name": "entPts"}, "mark": {"type": "point", "filled": false, "size": 55, "strokeWidth": 1.2, "opacity": 1},
     "encoding": {
      "x": {"field": "px", "type": "quantitative", "scale": {"domain": [-5.7, 4.3], "nice": false, "zero": false}, "axis": null},
      "y": {"field": "py", "type": "quantitative", "scale": {"domain": [-4.6, 5.4], "nice": false, "zero": false}, "axis": null},
      "color": {"field": "cl", "type": "nominal", "scale": {"domain": ["1", "2", "3"], "range": ["#F46B6B", "#5F85EA", "#30D5A6"]}, "legend": null},
      "shape": {"field": "g", "type": "nominal", "scale": {"domain": ["DLY-R", "CM-R"], "range": ["triangle-up", "circle"]},
        "legend": {"title": null, "orient": "top-left", "offset": 0, "padding": 9, "strokeColor": "#333", "labelFontSize": 24, "symbolSize": 340, "rowPadding": 16, "labelOffset": 4, "symbolStrokeColor": "#000", "symbolStrokeWidth": 2.5,
          "encode": {"symbols": {"update": {"stroke": {"value": "#000"}, "fill": {"value": "transparent"}, "strokeWidth": {"value": 2.5}}}}}}
     }},
    {"data": {"name": "entCtr"}, "mark": {"type": "square", "size": 260, "fill": "white", "strokeWidth": 1.2, "opacity": 1},
     "encoding": {
      "x": {"field": "cx", "type": "quantitative", "scale": {"domain": [-5.7, 4.3], "nice": false, "zero": false}, "axis": null},
      "y": {"field": "cy", "type": "quantitative", "scale": {"domain": [-4.6, 5.4], "nice": false, "zero": false}, "axis": null},
      "stroke": {"field": "cl", "type": "nominal", "scale": {"domain": ["1", "2", "3"], "range": ["#F46B6B", "#5F85EA", "#30D5A6"]}, "legend": null}
     }},
    {"data": {"name": "entCtr"}, "mark": {"type": "text", "fontSize": 14, "font": "DejaVu Sans"},
     "encoding": {
      "x": {"field": "cx", "type": "quantitative", "scale": {"domain": [-5.7, 4.3], "nice": false, "zero": false}, "axis": null},
      "y": {"field": "cy", "type": "quantitative", "scale": {"domain": [-4.6, 5.4], "nice": false, "zero": false}, "axis": null},
      "text": {"field": "cl"},
      "color": {"field": "cl", "type": "nominal", "scale": {"domain": ["1", "2", "3"], "range": ["#F46B6B", "#5F85EA", "#30D5A6"]}, "legend": null}
     }},
    {"data": {"values": [{}]}, "mark": {"type": "text", "fontSize": 44, "fontWeight": "bold", "align": "left", "baseline": "alphabetic"},
     "encoding": {
      "x": {"datum": -8.7, "type": "quantitative", "scale": {"domain": [-5.7, 4.3], "nice": false, "zero": false}, "axis": null},
      "y": {"datum": 5.85, "type": "quantitative", "scale": {"domain": [-4.6, 5.4], "nice": false, "zero": false}, "axis": null},
      "text": {"value": "b"}}},
    {"data": {"values": [{}]}, "mark": {"type": "text", "fontSize": 35, "fontWeight": "bold", "align": "center", "baseline": "alphabetic"},
     "encoding": {
      "x": {"datum": -0.53, "type": "quantitative", "scale": {"domain": [-5.7, 4.3], "nice": false, "zero": false}, "axis": null},
      "y": {"datum": 5.655, "type": "quantitative", "scale": {"domain": [-4.6, 5.4], "nice": false, "zero": false}, "axis": null},
      "text": {"value": "Enterotypes"}}}
   ]
  }
 ], "spacing": 77, "resolve": {"scale": {"color": "independent", "shape": "independent", "size": "independent", "stroke": "independent", "fill": "independent"}}},
 {"hconcat": [
  {
   "width": 537, "height": 481,
   "layer": [
    {"data": {"name": "phylum"},
     "transform": [
      {"fold": ["Others", "Bacteroidetes", "Firmicutes", "Proteobacteria", "Verrucomicrobia"], "as": ["taxon", "value"]},
      {"calculate": "indexof(['Others','Bacteroidetes','Firmicutes','Proteobacteria','Verrucomicrobia'], datum.taxon)", "as": "rank"}
     ],
     "mark": {"type": "bar", "stroke": "#f2f2f2", "strokeWidth": 0.6},
     "encoding": {
      "x": {"field": "s", "type": "nominal", "scale": {"domain": ["DLY-R1","DLY-R2","DLY-R3","DLY-R4","DLY-R5","DLY-R6","DLY-R7","CM-R1","CM-R2","CM-R3","CM-R4","CM-R5","CM-R6","CM-R7","CM-R8","CM-R9","CM-R10"], "paddingInner": 0.21, "paddingOuter": 0.12},
            "axis": {"title": null, "labelAngle": 45, "labelFontSize": 21, "labelFontWeight": "bold", "offset": 7, "tickSize": 7, "domainWidth": 1.5, "tickWidth": 1.5, "labelPadding": 3}},
      "y": {"field": "value", "type": "quantitative", "stack": "zero", "scale": {"domain": [0, 1], "nice": false},
            "axis": {"values": [0, 0.2, 0.4, 0.6, 0.8, 1], "format": ".1f", "title": "Relative abundance", "labelFontSize": 28, "labelFontWeight": "bold", "titleFontSize": 29, "titleFontWeight": "bold", "offset": 4, "tickSize": 6, "domainWidth": 1.5, "tickWidth": 1.5, "titlePadding": 10}},
      "color": {"field": "taxon", "type": "nominal", "scale": {"domain": ["Others", "Bacteroidetes", "Firmicutes", "Proteobacteria", "Verrucomicrobia"], "range": ["#80E000", "#5254A3", "#1794BA", "#9C9EDE", "#6B6ECF"]},
            "legend": {"title": null, "orient": "right", "offset": 5, "padding": 0, "symbolType": "square", "symbolSize": 530, "symbolStrokeWidth": 0, "labelFontSize": 24, "labelFontWeight": "bold", "rowPadding": 3, "labelOffset": 3, "labelLimit": 400}},
      "order": {"field": "rank", "type": "quantitative", "sort": "descending"}
     }},
    {"data": {"values": [{}]}, "mark": {"type": "text", "fontSize": 44, "fontWeight": "bold", "align": "left", "baseline": "alphabetic", "dx": -127},
     "encoding": {"x": {"datum": "DLY-R1", "type": "nominal"}, "y": {"datum": 1.0915, "type": "quantitative"}, "text": {"value": "c"}}},
    {"data": {"values": [{}]}, "mark": {"type": "text", "fontSize": 40, "fontWeight": "bold", "align": "center", "baseline": "alphabetic", "dx": 22},
     "encoding": {"x": {"datum": "CM-R2", "type": "nominal"}, "y": {"datum": 1.029, "type": "quantitative"}, "text": {"value": "Phylum"}}}
   ]
  },
  {
   "width": 537, "height": 481,
   "layer": [
    {"data": {"name": "genus"},
     "transform": [
      {"fold": ["Others","Bacteroides","Parabacteroides","Akkermansia","Sutterella","Ruminococcus","Gemmiger","Oscillospira","Coprococcus","Bilophila","Roseburia","Helicobacter","Clostridium","Butyricimonas"], "as": ["taxon", "value"]},
      {"calculate": "indexof(['Others','Bacteroides','Parabacteroides','Akkermansia','Sutterella','Ruminococcus','Gemmiger','Oscillospira','Coprococcus','Bilophila','Roseburia','Helicobacter','Clostridium','Butyricimonas'], datum.taxon)", "as": "rank"}
     ],
     "mark": {"type": "bar", "stroke": "#f2f2f2", "strokeWidth": 0.6},
     "encoding": {
      "x": {"field": "s", "type": "nominal", "scale": {"domain": ["DLY-R1","DLY-R2","DLY-R3","DLY-R4","DLY-R5","DLY-R6","DLY-R7","CM-R1","CM-R2","CM-R3","CM-R4","CM-R5","CM-R6","CM-R7","CM-R8","CM-R9","CM-R10"], "paddingInner": 0.21, "paddingOuter": 0.12},
            "axis": {"title": null, "labelAngle": 45, "labelFontSize": 21, "labelFontWeight": "bold", "offset": 7, "tickSize": 7, "domainWidth": 1.5, "tickWidth": 1.5, "labelPadding": 3}},
      "y": {"field": "value", "type": "quantitative", "stack": "zero", "scale": {"domain": [0, 1], "nice": false},
            "axis": {"values": [0.2, 0.4, 0.6, 0.8, 1], "format": ".1f", "title": "Relative abundance", "labelFontSize": 28, "labelFontWeight": "bold", "titleFontSize": 29, "titleFontWeight": "bold", "offset": 4, "tickSize": 6, "domainWidth": 1.5, "tickWidth": 1.5, "titlePadding": 10}},
      "color": {"field": "taxon", "type": "nominal", "scale": {"domain": ["Others","Bacteroides","Parabacteroides","Akkermansia","Sutterella","Ruminococcus","Gemmiger","Oscillospira","Coprococcus","Bilophila","Roseburia","Helicobacter","Clostridium","Butyricimonas"], "range": ["#80E000","#843C39","#E7CB94","#E7BA52","#BD9E39","#8C6D31","#CEDB9C","#B5CF6B","#8CA252","#637939","#9C9EDE","#6B6ECF","#5254A3","#1794BA"]},
            "legend": {"title": null, "orient": "right", "offset": 7, "padding": 0, "symbolType": "square", "symbolSize": 530, "symbolStrokeWidth": 0, "labelFontSize": 25, "labelFontWeight": "bold", "labelFontStyle": "italic", "rowPadding": 2, "labelOffset": 5, "labelLimit": 400}},
      "order": {"field": "rank", "type": "quantitative", "sort": "descending"}
     }},
    {"data": {"values": [{}]}, "mark": {"type": "text", "fontSize": 44, "fontWeight": "bold", "align": "left", "baseline": "alphabetic", "dx": -128},
     "encoding": {"x": {"datum": "DLY-R1", "type": "nominal"}, "y": {"datum": 1.0915, "type": "quantitative"}, "text": {"value": "d"}}},
    {"data": {"values": [{}]}, "mark": {"type": "text", "fontSize": 40, "fontWeight": "bold", "align": "center", "baseline": "alphabetic", "dx": 23},
     "encoding": {"x": {"datum": "CM-R2", "type": "nominal"}, "y": {"datum": 1.023, "type": "quantitative"}, "text": {"value": "Genus"}}}
   ]
  }
 ], "spacing": 0, "resolve": {"scale": {"color": "independent", "shape": "independent", "size": "independent", "stroke": "independent", "fill": "independent"}}},
 {"hconcat": [
  {
   "width": 542, "height": 480,
   "layer": [
    {"data": {"name": "species"},
     "transform": [
      {"fold": ["Others","Bacteroides ovatus","Akkermansia muciniphila","Bacteroides fragilis","Gemmiger formicilis","Roseburia faecis","Clostridium celatum"], "as": ["taxon", "value"]},
      {"calculate": "indexof(['Others','Bacteroides ovatus','Akkermansia muciniphila','Bacteroides fragilis','Gemmiger formicilis','Roseburia faecis','Clostridium celatum'], datum.taxon)", "as": "rank"}
     ],
     "mark": {"type": "bar", "stroke": "#f2f2f2", "strokeWidth": 0.6},
     "encoding": {
      "x": {"field": "s", "type": "nominal", "scale": {"domain": ["DLY-R1","DLY-R2","DLY-R3","DLY-R4","DLY-R5","DLY-R6","DLY-R7","CM-R1","CM-R2","CM-R3","CM-R4","CM-R5","CM-R6","CM-R7","CM-R8","CM-R9","CM-R10"], "paddingInner": 0.21, "paddingOuter": 0.12},
            "axis": {"title": null, "labelAngle": 45, "labelFontSize": 21, "labelFontWeight": "bold", "offset": 7, "tickSize": 7, "domainWidth": 1.5, "tickWidth": 1.5, "labelPadding": 3}},
      "y": {"field": "value", "type": "quantitative", "stack": "zero", "scale": {"domain": [0, 1], "nice": false},
            "axis": {"values": [0, 0.2, 0.4, 0.6, 0.8, 1], "format": ".1f", "title": "Relative abundance", "labelFontSize": 28, "labelFontWeight": "bold", "titleFontSize": 29, "titleFontWeight": "bold", "offset": 4, "tickSize": 6, "domainWidth": 1.5, "tickWidth": 1.5, "titlePadding": 10}},
      "color": {"field": "taxon", "type": "nominal", "scale": {"domain": ["Others","Bacteroides ovatus","Akkermansia muciniphila","Bacteroides fragilis","Gemmiger formicilis","Roseburia faecis","Clostridium celatum"], "range": ["#80E000","#8CA252","#637939","#9C9EDE","#6B6ECF","#5254A3","#1794BA"]},
            "legend": {"title": null, "orient": "right", "offset": 5, "padding": 0, "symbolType": "square", "symbolSize": 530, "symbolStrokeWidth": 0, "labelFontSize": 23, "labelFontWeight": "bold", "labelFontStyle": "italic", "rowPadding": 3, "labelOffset": 5, "labelLimit": 400,
              "encode": {"labels": {"update": {"fontStyle": {"signal": "datum.label === 'Others' ? 'normal' : 'italic'"}}}}}},
      "order": {"field": "rank", "type": "quantitative", "sort": "descending"}
     }},
    {"data": {"values": [{}]}, "mark": {"type": "text", "fontSize": 44, "fontWeight": "bold", "align": "left", "baseline": "alphabetic", "dx": -125},
     "encoding": {"x": {"datum": "DLY-R1", "type": "nominal"}, "y": {"datum": 1.0875, "type": "quantitative"}, "text": {"value": "e"}}},
    {"data": {"values": [{}]}, "mark": {"type": "text", "fontSize": 44, "fontWeight": "bold", "align": "left", "baseline": "alphabetic", "dx": 227},
     "encoding": {"x": {"datum": "CM-R10", "type": "nominal"}, "y": {"datum": 1.0875, "type": "quantitative"}, "text": {"value": "f"}}},
    {"data": {"values": [{}]}, "mark": {"type": "text", "fontSize": 40, "fontWeight": "bold", "align": "center", "baseline": "alphabetic", "dx": 21},
     "encoding": {"x": {"datum": "CM-R2", "type": "nominal"}, "y": {"datum": 1.033, "type": "quantitative"}, "text": {"value": "Species"}}}
   ]
  },
  {
   "width": 456, "height": 439,
   "layer": [
    {"data": {"name": "fheat"},
     "transform": [
      {"fold": ["CM-R6","CM-R5","CM-R1","CM-R3","CM-R8","CM-R9","CM-R2","CM-R4","CM-R7","CM-R10","DLY-R5","DLY-R2","DLY-R1","DLY-R6","DLY-R4","DLY-R3","DLY-R7"], "as": ["sample", "v"]},
      {"lookup": "sample", "from": {"data": {"name": "fcols"}, "key": "sample", "fields": ["x0", "x1"]}},
      {"lookup": "taxon", "from": {"data": {"name": "frows"}, "key": "taxon", "fields": ["y0", "y1"]}},
      {"calculate": "-datum.v", "as": "u"}
     ],
     "mark": {"type": "rect", "stroke": "#f2f2f2", "strokeWidth": 1},
     "encoding": {
      "x": {"field": "x0", "type": "quantitative", "scale": {"domain": [-2.4, 17], "nice": false, "zero": false}, "axis": null},
      "x2": {"field": "x1"},
      "y": {"field": "y0", "type": "quantitative", "scale": {"domain": [-1.6, 17], "nice": false, "zero": false, "reverse": true}, "axis": null},
      "y2": {"field": "y1"},
      "color": {"field": "u", "type": "quantitative",
        "scale": {"domain": [-2, -1.4, -0.9, -0.4, -0.05, 0.1, 0.4, 0.8, 1.2, 1.6, 2], "range": ["#ff0000", "#ff6a56", "#ff9a7e", "#ffcfa6", "#fffcd0", "#e2e2d0", "#c9c9d8", "#a9a9db", "#8080e2", "#5a5aeb", "#0a0aff"], "interpolate": "rgb"},
        "legend": {"title": null, "orient": "none", "legendX": -28, "legendY": 95, "direction": "vertical", "gradientLength": 230, "gradientThickness": 18, "values": [-2, 0, 2], "labelFontSize": 24, "labelAlign": "right", "labelOffset": -29, "padding": 0,
          "labelExpr": "datum.value > 0 ? '-' + datum.value : (datum.value < 0 ? '' + (-datum.value) : '0')"}}
     }},
    {"data": {"name": "fcolden"}, "mark": {"type": "rule", "color": "#222", "strokeWidth": 1.4},
     "encoding": {"x": {"field": "xl", "type": "quantitative", "scale": {"domain": [-2.4, 17], "nice": false, "zero": false}, "axis": null}, "x2": {"field": "xr"}, "y": {"field": "h", "type": "quantitative", "scale": {"domain": [-1.6, 17], "nice": false, "zero": false, "reverse": true}, "axis": null}}},
    {"data": {"name": "fcolden"}, "mark": {"type": "rule", "color": "#222", "strokeWidth": 1.4},
     "encoding": {"x": {"field": "xl", "type": "quantitative", "scale": {"domain": [-2.4, 17], "nice": false, "zero": false}, "axis": null}, "y": {"field": "hl", "type": "quantitative", "scale": {"domain": [-1.6, 17], "nice": false, "zero": false, "reverse": true}, "axis": null}, "y2": {"field": "h"}}},
    {"data": {"name": "fcolden"}, "mark": {"type": "rule", "color": "#222", "strokeWidth": 1.4},
     "encoding": {"x": {"field": "xr", "type": "quantitative", "scale": {"domain": [-2.4, 17], "nice": false, "zero": false}, "axis": null}, "y": {"field": "hr", "type": "quantitative", "scale": {"domain": [-1.6, 17], "nice": false, "zero": false, "reverse": true}, "axis": null}, "y2": {"field": "h"}}},
    {"data": {"name": "frowden"}, "mark": {"type": "rule", "color": "#222", "strokeWidth": 1.4},
     "encoding": {"x": {"field": "h", "type": "quantitative", "scale": {"domain": [-2.4, 17], "nice": false, "zero": false}, "axis": null}, "y": {"field": "yl", "type": "quantitative", "scale": {"domain": [-1.6, 17], "nice": false, "zero": false, "reverse": true}, "axis": null}, "y2": {"field": "yr"}}},
    {"data": {"name": "frowden"}, "mark": {"type": "rule", "color": "#222", "strokeWidth": 1.4},
     "encoding": {"x": {"field": "hl", "type": "quantitative", "scale": {"domain": [-2.4, 17], "nice": false, "zero": false}, "axis": null}, "x2": {"field": "h"}, "y": {"field": "yl", "type": "quantitative", "scale": {"domain": [-1.6, 17], "nice": false, "zero": false, "reverse": true}, "axis": null}}},
    {"data": {"name": "frowden"}, "mark": {"type": "rule", "color": "#222", "strokeWidth": 1.4},
     "encoding": {"x": {"field": "hr", "type": "quantitative", "scale": {"domain": [-2.4, 17], "nice": false, "zero": false}, "axis": null}, "x2": {"field": "h"}, "y": {"field": "yr", "type": "quantitative", "scale": {"domain": [-1.6, 17], "nice": false, "zero": false, "reverse": true}, "axis": null}}},
    {"data": {"values": [{}]}, "mark": {"type": "rule", "color": "#555", "strokeWidth": 1.4},
     "encoding": {"x": {"datum": 17.47, "type": "quantitative", "scale": {"domain": [-2.4, 17], "nice": false, "zero": false}, "axis": null}, "y": {"datum": 0, "type": "quantitative", "scale": {"domain": [-1.6, 17], "nice": false, "zero": false, "reverse": true}, "axis": null}, "y2": {"datum": 17}}},
    {"data": {"values": [{}]}, "mark": {"type": "rule", "color": "#555", "strokeWidth": 1.4},
     "encoding": {"x": {"datum": 0, "type": "quantitative", "scale": {"domain": [-2.4, 17], "nice": false, "zero": false}, "axis": null}, "x2": {"datum": 17}, "y": {"datum": 17.5, "type": "quantitative", "scale": {"domain": [-1.6, 17], "nice": false, "zero": false, "reverse": true}, "axis": null}}},
    {"data": {"name": "fcols"}, "mark": {"type": "rule", "color": "#555", "strokeWidth": 1.4},
     "encoding": {"x": {"field": "xc", "type": "quantitative", "scale": {"domain": [-2.4, 17], "nice": false, "zero": false}, "axis": null}, "y": {"datum": 17.33, "type": "quantitative", "scale": {"domain": [-1.6, 17], "nice": false, "zero": false, "reverse": true}, "axis": null}, "y2": {"datum": 17.5}}},
    {"data": {"name": "fcols"}, "mark": {"type": "text", "fontSize": 19, "font": "Liberation Sans", "angle": 58, "align": "left", "baseline": "middle"},
     "encoding": {"x": {"field": "xc", "type": "quantitative", "scale": {"domain": [-2.4, 17], "nice": false, "zero": false}, "axis": null}, "y": {"datum": 17.8, "type": "quantitative", "scale": {"domain": [-1.6, 17], "nice": false, "zero": false, "reverse": true}, "axis": null}, "text": {"field": "sample"}}},
    {"data": {"name": "frows"}, "transform": [{"filter": "datum.it"}], "mark": {"type": "text", "fontSize": 23, "fontWeight": "bold", "fontStyle": "italic", "align": "left", "baseline": "middle"},
     "encoding": {"x": {"datum": 17.8, "type": "quantitative", "scale": {"domain": [-2.4, 17], "nice": false, "zero": false}, "axis": null}, "y": {"field": "yc", "type": "quantitative", "scale": {"domain": [-1.6, 17], "nice": false, "zero": false, "reverse": true}, "axis": null}, "text": {"field": "taxon"}}},
    {"data": {"name": "frows"}, "transform": [{"filter": "!datum.it"}], "mark": {"type": "text", "fontSize": 23, "fontWeight": "bold", "align": "left", "baseline": "middle"},
     "encoding": {"x": {"datum": 17.8, "type": "quantitative", "scale": {"domain": [-2.4, 17], "nice": false, "zero": false}, "axis": null}, "y": {"field": "yc", "type": "quantitative", "scale": {"domain": [-1.6, 17], "nice": false, "zero": false, "reverse": true}, "axis": null}, "text": {"field": "taxon"}}},
    {"data": {"values": [{}]}, "mark": {"type": "text", "fontSize": 17, "fontWeight": "bold", "align": "left", "baseline": "alphabetic"},
     "encoding": {"x": {"datum": -3.91, "type": "quantitative", "scale": {"domain": [-2.4, 17], "nice": false, "zero": false}, "axis": null}, "y": {"datum": -1.57, "type": "quantitative", "scale": {"domain": [-1.6, 17], "nice": false, "zero": false, "reverse": true}, "axis": null}, "text": {"value": "Log₁₀ (Relative Abundance)"}}}
   ]
  }
 ], "spacing": 8, "resolve": {"scale": {"color": "independent", "shape": "independent", "size": "independent", "stroke": "independent", "fill": "independent"}}},
 {"hconcat": [
  {
   "width": 529, "height": 536,
   "layer": [
    {"data": {"name": "gedges"},
     "transform": [
      {"lookup": "a", "from": {"data": {"name": "gnodes"}, "key": "name", "fields": ["x", "y"]}, "as": ["ax", "ay"]},
      {"lookup": "b", "from": {"data": {"name": "gnodes"}, "key": "name", "fields": ["x", "y"]}, "as": ["bx", "by"]}
     ],
     "mark": {"type": "rule", "strokeWidth": 1.7},
     "encoding": {
      "x": {"field": "ax", "type": "quantitative", "scale": {"domain": [17.34, 100], "nice": false, "zero": false}, "axis": null},
      "y": {"field": "ay", "type": "quantitative", "scale": {"domain": [5.3, 100], "nice": false, "zero": false, "reverse": true}, "axis": null},
      "x2": {"field": "bx"}, "y2": {"field": "by"},
      "stroke": {"field": "t", "type": "nominal", "scale": {"domain": ["neg", "weakneg", "pos", "weakpos"], "range": ["#D93A6A", "#F2A9C0", "#3AA8DA", "#B4DDF0"]}, "legend": null}
     }},
    {"data": {"name": "gnodes"}, "mark": {"type": "circle", "opacity": 1},
     "encoding": {
      "x": {"field": "x", "type": "quantitative", "scale": {"domain": [17.34, 100], "nice": false, "zero": false}, "axis": null},
      "y": {"field": "y", "type": "quantitative", "scale": {"domain": [5.3, 100], "nice": false, "zero": false, "reverse": true}, "axis": null},
      "color": {"field": "phylum", "type": "nominal", "scale": {"domain": ["Bacteroidetes", "Verrucomicrobia", "Firmicutes", "Others"], "range": ["#2EC4BE", "#B39DDB", "#5AAEEE", "#FFB27F"]},
        "legend": {"title": " ", "titleFontSize": 8, "titlePadding": 48, "orient": "right", "offset": 24, "padding": 0, "symbolType": "square", "symbolSize": 500, "labelFontSize": 25, "rowPadding": 13, "labelOffset": 12, "labelLimit": 400}},
      "size": {"field": "phylum", "type": "nominal", "scale": {"domain": ["Bacteroidetes", "Verrucomicrobia", "Firmicutes", "Others"], "range": [380, 380, 380, 720]}, "legend": null}
     }},
    {"data": {"name": "gnodes"}, "transform": [{"filter": "datum.name !== 'Others'"}],
     "mark": {"type": "text", "fontSize": 26, "fontWeight": "bold", "fontStyle": "italic", "align": "left", "baseline": "bottom", "dx": -14, "dy": -13},
     "encoding": {
      "x": {"field": "x", "type": "quantitative", "scale": {"domain": [17.34, 100], "nice": false, "zero": false}, "axis": null},
      "y": {"field": "y", "type": "quantitative", "scale": {"domain": [5.3, 100], "nice": false, "zero": false, "reverse": true}, "axis": null},
      "text": {"field": "name"}}},
    {"data": {"name": "gnodes"}, "transform": [{"filter": "datum.name === 'Others'"}],
     "mark": {"type": "text", "fontSize": 26, "align": "left", "baseline": "bottom", "dx": -14, "dy": -13},
     "encoding": {
      "x": {"field": "x", "type": "quantitative", "scale": {"domain": [17.34, 100], "nice": false, "zero": false}, "axis": null},
      "y": {"field": "y", "type": "quantitative", "scale": {"domain": [5.3, 100], "nice": false, "zero": false, "reverse": true}, "axis": null},
      "text": {"field": "name"}}},
    {"data": {"values": [{}]}, "mark": {"type": "text", "fontSize": 44, "fontWeight": "bold", "align": "left", "baseline": "alphabetic"},
     "encoding": {
      "x": {"datum": 0, "type": "quantitative", "scale": {"domain": [17.34, 100], "nice": false, "zero": false}, "axis": null},
      "y": {"datum": 6.4, "type": "quantitative", "scale": {"domain": [5.3, 100], "nice": false, "zero": false, "reverse": true}, "axis": null},
      "text": {"value": "g"}}}
   ]
  },
  {
   "width": 326, "height": 340,
   "layer": [
    {"data": {"name": "hcorr"},
     "transform": [
      {"fold": ["Others","Bacteroides ovatus","Akkermansia muciniphila","Bacteroides fragilis","Gemmiger formicilis","Roseburia faecis","Clostridium celatum"], "as": ["col", "r"]},
      {"calculate": "-datum.r", "as": "u"},
      {"lookup": "col", "from": {"data": {"name": "hidx"}, "key": "name", "fields": ["i0", "i1"]}, "as": ["cx0", "cx1"]},
      {"lookup": "row", "from": {"data": {"name": "hidx"}, "key": "name", "fields": ["i0", "i1"]}, "as": ["ry0", "ry1"]}
     ],
     "mark": {"type": "rect", "stroke": "#dcdcdc", "strokeWidth": 1.5},
     "encoding": {
      "x": {"field": "cx0", "type": "quantitative", "scale": {"domain": [0, 7], "nice": false, "zero": false}, "axis": null},
      "x2": {"field": "cx1"},
      "y": {"field": "ry0", "type": "quantitative", "scale": {"domain": [0, 7], "nice": false, "zero": false, "reverse": true}, "axis": null},
      "y2": {"field": "ry1"},
      "color": {"field": "u", "type": "quantitative",
        "scale": {"domain": [-1, -0.6, -0.2, 0, 0.1, 0.4, 0.7, 1], "range": ["#ff0000", "#ff6a5a", "#ffcba0", "#fffcd6", "#dcdcd4", "#aaaadc", "#5a5af0", "#1a1aff"], "interpolate": "rgb"},
        "legend": {"title": null, "orient": "right", "offset": 47, "direction": "vertical", "gradientLength": 157, "gradientThickness": 22, "values": [-1, 0, 1], "labelFontSize": 24, "padding": 0,
          "labelExpr": "datum.value > 0 ? '-' + datum.value : (datum.value < 0 ? '' + (-datum.value) : '0')"}}
     }},
    {"data": {"name": "hidx"}, "transform": [{"filter": "datum.it"}],
     "mark": {"type": "text", "fontSize": 29, "fontWeight": "bold", "fontStyle": "italic", "align": "right", "baseline": "middle"},
     "encoding": {"x": {"datum": -0.1, "type": "quantitative", "scale": {"domain": [0, 7], "nice": false, "zero": false}, "axis": null}, "y": {"field": "ic", "type": "quantitative", "scale": {"domain": [0, 7], "nice": false, "zero": false, "reverse": true}, "axis": null}, "text": {"field": "name"}}},
    {"data": {"name": "hidx"}, "transform": [{"filter": "!datum.it"}],
     "mark": {"type": "text", "fontSize": 29, "fontWeight": "bold", "align": "right", "baseline": "middle"},
     "encoding": {"x": {"datum": -0.1, "type": "quantitative", "scale": {"domain": [0, 7], "nice": false, "zero": false}, "axis": null}, "y": {"field": "ic", "type": "quantitative", "scale": {"domain": [0, 7], "nice": false, "zero": false, "reverse": true}, "axis": null}, "text": {"field": "name"}}},
    {"data": {"name": "hidx"}, "transform": [{"filter": "datum.it"}],
     "mark": {"type": "text", "fontSize": 24, "fontWeight": "bold", "fontStyle": "italic", "align": "left", "baseline": "top", "angle": 34, "dx": -8},
     "encoding": {"x": {"field": "ic", "type": "quantitative", "scale": {"domain": [0, 7], "nice": false, "zero": false}, "axis": null}, "y": {"datum": 7.42, "type": "quantitative", "scale": {"domain": [0, 7], "nice": false, "zero": false, "reverse": true}, "axis": null}, "text": {"field": "name"}}},
    {"data": {"name": "hidx"}, "transform": [{"filter": "!datum.it"}],
     "mark": {"type": "text", "fontSize": 24, "fontWeight": "bold", "align": "left", "baseline": "top", "angle": 34, "dx": -8},
     "encoding": {"x": {"field": "ic", "type": "quantitative", "scale": {"domain": [0, 7], "nice": false, "zero": false}, "axis": null}, "y": {"datum": 7.42, "type": "quantitative", "scale": {"domain": [0, 7], "nice": false, "zero": false, "reverse": true}, "axis": null}, "text": {"field": "name"}}},
    {"data": {"values": [{}]}, "mark": {"type": "rule", "color": "#444", "strokeWidth": 1.5},
     "encoding": {"x": {"datum": 0.5, "type": "quantitative", "scale": {"domain": [0, 7], "nice": false, "zero": false}, "axis": null}, "x2": {"datum": 6.5}, "y": {"datum": 7.165, "type": "quantitative", "scale": {"domain": [0, 7], "nice": false, "zero": false, "reverse": true}, "axis": null}}},
    {"data": {"name": "hidx"}, "mark": {"type": "rule", "color": "#444", "strokeWidth": 1.5},
     "encoding": {"x": {"field": "ic", "type": "quantitative", "scale": {"domain": [0, 7], "nice": false, "zero": false}, "axis": null}, "y": {"datum": 7.165, "type": "quantitative", "scale": {"domain": [0, 7], "nice": false, "zero": false, "reverse": true}, "axis": null}, "y2": {"datum": 7.35}}},
    {"data": {"values": [{}]}, "mark": {"type": "text", "fontSize": 44, "fontWeight": "bold", "align": "left", "baseline": "alphabetic"},
     "encoding": {"x": {"datum": -7.32, "type": "quantitative", "scale": {"domain": [0, 7], "nice": false, "zero": false}, "axis": null}, "y": {"datum": 0.08, "type": "quantitative", "scale": {"domain": [0, 7], "nice": false, "zero": false, "reverse": true}, "axis": null}, "text": {"value": "h"}}}
   ]
  }
 ], "spacing": 40, "resolve": {"scale": {"color": "independent", "shape": "independent", "size": "independent", "stroke": "independent", "fill": "independent"}}}
]
}
